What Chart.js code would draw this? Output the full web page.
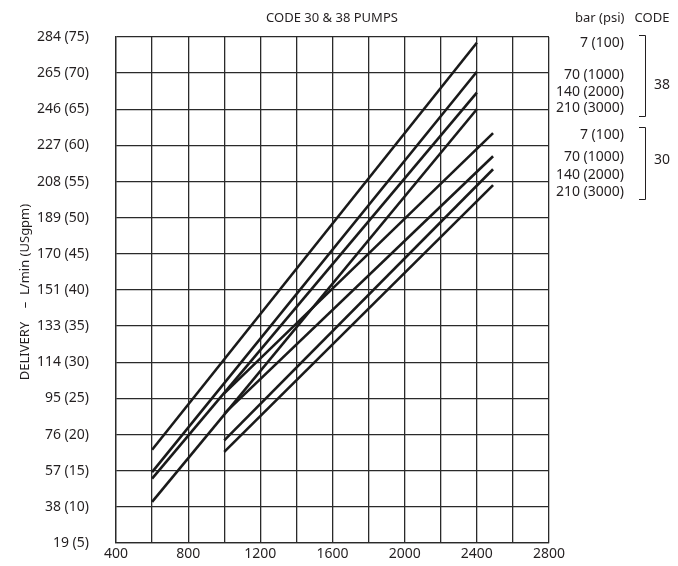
<!DOCTYPE html>
<html>
<head>
<meta charset="utf-8">
<script src="https://cdn.jsdelivr.net/npm/chart.js@4"></script>
<style>
  body { margin: 0; background: #fff; }
  #wrap { width: 678px; height: 566px; }
</style>
</head>
<body>
<div id="wrap"><canvas id="pumpChart" width="678" height="566"></canvas></div>
<script>
// speed (rpm) at the two ends of each family of lines
const rpm38 = [600, 2400];
const rpm30 = [1000, 2490];

// delivery in USgpm, per pressure
const code38_7bar = [17.9, 74.2];
const code38_70bar = [14.8, 70.2];
const code38_140bar = [13.9, 67.3];
const code38_210bar = [10.7, 65.0];

const code30_7bar = [25.7, 61.7];
const code30_70bar = [22.9, 58.5];
const code30_140bar = [19.2, 56.7];
const code30_210bar = [17.6, 54.5];

// y tick labels: L/min (USgpm)
const gpmTicks = [5, 10, 15, 20, 25, 30, 35, 40, 45, 50, 55, 60, 65, 70, 75];
const lpmTicks = [19, 38, 57, 76, 95, 114, 133, 151, 170, 189, 208, 227, 246, 265, 284];

const pressureLabels = ['7 (100)', '70 (1000)', '140 (2000)', '210 (3000)'];

const FONT = '"Noto Sans", sans-serif';
const ink = '#231f20';

function pts(xs, ys) {
  return xs.map((x, i) => ({ x: x, y: ys[i] }));
}

function line(label, xs, ys) {
  return {
    label: label,
    data: pts(xs, ys),
    borderColor: '#1a1a1a',
    borderWidth: 2.6,
    pointRadius: 0,
    fill: false
  };
}

// title, y title and the pressure / code key on the right
const annotate = {
  id: 'annotate',
  afterDraw(chart) {
    const ctx = chart.ctx;
    ctx.save();
    ctx.fillStyle = ink;
    ctx.strokeStyle = ink;
    ctx.font = '13px ' + FONT;
    ctx.textBaseline = 'middle';

    ctx.textAlign = 'center';
    ctx.fillText('CODE 30 & 38 PUMPS', 332, 18);
    ctx.textAlign = 'left';
    ctx.fillText('bar (psi)   CODE', 575, 18);

    // y axis title
    ctx.save();
    ctx.translate(25, 292);
    ctx.rotate(-Math.PI / 2);
    ctx.textAlign = 'center';
    ctx.fillText('DELIVERY    \u2013  L/min (USgpm)', 0, 0);
    ctx.restore();

    ctx.font = '14px ' + FONT;
    ctx.textAlign = 'right';
    const groups = [
      { code: '38', ys: [43, 75, 92, 108], top: 35, bottom: 116, mid: 85 },
      { code: '30', ys: [135, 157, 175, 192], top: 127, bottom: 199, mid: 160 }
    ];
    groups.forEach(g => {
      pressureLabels.forEach((t, i) => ctx.fillText(t, 624, g.ys[i]));
      ctx.lineWidth = 1;
      ctx.beginPath();
      ctx.moveTo(639, g.top + 0.5);
      ctx.lineTo(645.5, g.top + 0.5);
      ctx.lineTo(645.5, g.bottom + 0.5);
      ctx.lineTo(639, g.bottom + 0.5);
      ctx.stroke();
      ctx.textAlign = 'left';
      ctx.fillText(g.code, 654, g.mid);
      ctx.textAlign = 'right';
    });
    ctx.restore();
  }
};

new Chart(document.getElementById('pumpChart'), {
  type: 'line',
  data: {
    datasets: [
      line('38 - 7 bar', rpm38, code38_7bar),
      line('38 - 70 bar', rpm38, code38_70bar),
      line('38 - 140 bar', rpm38, code38_140bar),
      line('38 - 210 bar', rpm38, code38_210bar),
      line('30 - 7 bar', rpm30, code30_7bar),
      line('30 - 70 bar', rpm30, code30_70bar),
      line('30 - 140 bar', rpm30, code30_140bar),
      line('30 - 210 bar', rpm30, code30_210bar)
    ]
  },
  options: {
    responsive: false,
    animation: false,
    layout: { padding: { left: 0, right: 129, top: 37, bottom: 0 } },
    plugins: {
      legend: { display: false },
      tooltip: { enabled: false }
    },
    scales: {
      x: {
        type: 'linear',
        min: 400,
        max: 2800,
        afterFit: s => { s.height = 23; },
        ticks: {
          stepSize: 200,
          autoSkip: false,
          maxRotation: 0,
          padding: 3,
          color: ink,
          font: { family: FONT, size: 14 },
          callback: v => (v % 400 === 0 ? v : '')
        },
        grid: { color: '#2a2a2a', lineWidth: 1.3, drawTicks: false },
        border: { color: '#2a2a2a', width: 1.3 }
      },
      y: {
        type: 'linear',
        min: 5,
        max: 75,
        afterFit: s => {
          s.width = 116;
          // the wide label gap should not push the plot edges in
          s.paddingTop = 8;
          s.paddingBottom = 8;
        },
        ticks: {
          stepSize: 5,
          padding: 27,
          color: ink,
          font: { family: FONT, size: 14 },
          callback: v => {
            const i = gpmTicks.indexOf(v);
            return i < 0 ? '' : lpmTicks[i] + ' (' + v + ')';
          }
        },
        grid: { color: '#2a2a2a', lineWidth: 1.3, drawTicks: false },
        border: { color: '#2a2a2a', width: 1.3 }
      }
    }
  },
  plugins: [annotate]
});
</script>
</body>
</html>
